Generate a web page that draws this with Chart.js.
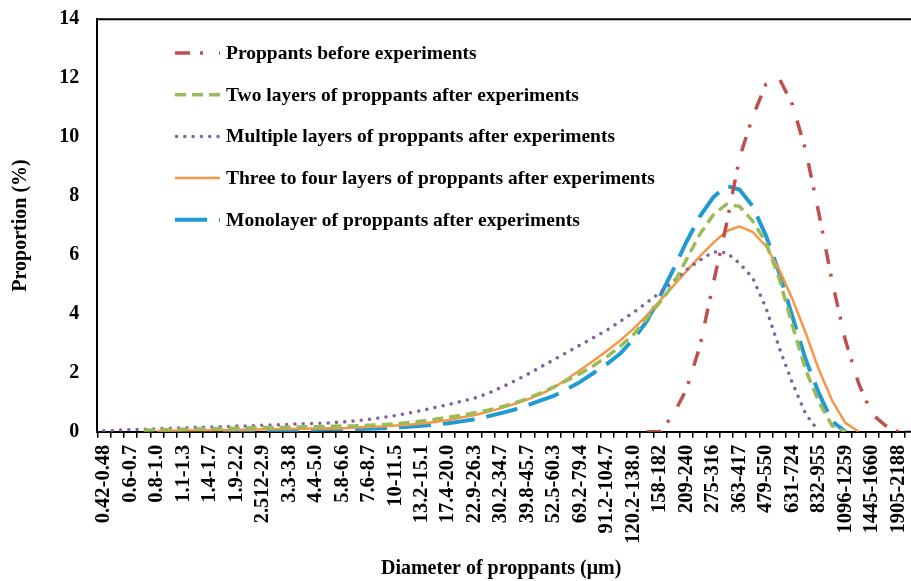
<!DOCTYPE html>
<html>
<head>
<meta charset="utf-8">
<script src="https://cdn.jsdelivr.net/npm/chart.js@4.4.1/dist/chart.umd.min.js"></script>
<style>
  html, body { margin: 0; padding: 0; background: #fff; }
  #wrap { width: 911px; height: 581px; }
</style>
</head>
<body>
<div id="wrap"><canvas id="c" width="911" height="581"></canvas></div>
<script>
// Size classes (µm); every second class is labelled on the axis
const tickLabels = ['0.42-0.48', '0.6-0.7', '0.8-1.0', '1.1-1.3', '1.4-1.7', '1.9-2.2', '2.512-2.9',
  '3.3-3.8', '4.4-5.0', '5.8-6.6', '7.6-8.7', '10-11.5', '13.2-15.1', '17.4-20.0', '22.9-26.3',
  '30.2-34.7', '39.8-45.7', '52.5-60.3', '69.2-79.4', '91.2-104.7', '120.2-138.0', '158-182',
  '209-240', '275-316', '363-417', '479-550', '631-724', '832-955', '1096-1259', '1445-1660', '1905-2188'];

// Proportion (%) per size class
const beforeExp = [null, null, null, null, null, null, null, null, null, null,
  null, null, null, null, null, null, null, null, null, null,
  null, null, null, null, null, null, null, null, null, null,
  null, null, null, null, null, null, null, null, null, null,
  null, 0, 0, 0.57, 1.45, 2.88, 5.0, 7.0, 9.3, 10.7,
  11.8, 12.0, 11.1, 9.55, 7.4, 5.1, 3.1, 1.64, 0.6, 0.22, 0];

const twoLayers = [null, null, null, 0.05, 0.06, 0.07, 0.08, 0.09, 0.1, 0.11,
  0.12, 0.13, 0.14, 0.14, 0.15, 0.16, 0.17, 0.18, 0.19, 0.2,
  0.22, 0.24, 0.27, 0.31, 0.36, 0.42, 0.49, 0.56, 0.64, 0.73,
  0.84, 0.97, 1.13, 1.32, 1.52, 1.75, 1.98, 2.25, 2.55, 2.9,
  3.3, 3.85, 4.4, 5.0, 5.85, 6.7, 7.35, 7.72, 7.65, 7.15,
  6.42, 5.2, 3.6, 2.1, 1.0, 0.2, 0, null, null, null, null];

const multiLayers = [0.03, 0.05, 0.07, 0.08, 0.1, 0.12, 0.13, 0.15, 0.16, 0.17,
  0.19, 0.2, 0.22, 0.23, 0.25, 0.27, 0.28, 0.3, 0.33, 0.37,
  0.42, 0.48, 0.55, 0.63, 0.72, 0.82, 0.92, 1.03, 1.14, 1.3,
  1.5, 1.72, 1.95, 2.2, 2.45, 2.7, 2.95, 3.2, 3.45, 3.75,
  4.05, 4.38, 4.72, 5.1, 5.5, 5.82, 6.1, 6.08, 5.72, 5.22,
  4.2, 2.85, 1.65, 0.6, 0, null, null, null, null, null, null];

const threeToFour = [null, null, null, null, 0.02, 0.03, 0.04, 0.05, 0.05, 0.06,
  0.07, 0.07, 0.08, 0.09, 0.09, 0.1, 0.11, 0.11, 0.12, 0.14,
  0.16, 0.18, 0.21, 0.24, 0.28, 0.33, 0.4, 0.48, 0.57, 0.68,
  0.8, 0.94, 1.1, 1.28, 1.5, 1.8, 2.1, 2.42, 2.75, 3.1,
  3.5, 3.95, 4.45, 4.95, 5.45, 5.95, 6.4, 6.8, 6.97, 6.78,
  6.3, 5.5, 4.5, 3.35, 2.1, 1.05, 0.3, 0, null, null, null];

const monolayer = [null, null, null, null, null, null, null, null, null, 0.01,
  0.02, 0.03, 0.04, 0.05, 0.06, 0.06, 0.07, 0.08, 0.08, 0.09,
  0.1, 0.12, 0.14, 0.17, 0.2, 0.24, 0.29, 0.35, 0.42, 0.52,
  0.63, 0.75, 0.9, 1.06, 1.22, 1.45, 1.7, 2.0, 2.3, 2.65,
  3.15, 3.75, 4.6, 5.5, 6.45, 7.3, 7.95, 8.35, 8.22, 7.65,
  6.65, 5.4, 3.9, 2.45, 1.3, 0.35, 0, null, null, null, null];

// Axis categories: labelled classes with the unlabelled ones in between
const categories = [];
tickLabels.forEach((t, k) => {
  categories.push(t);
  if (k < tickLabels.length - 1) categories.push('');
});

const FAMILY = '"Liberation Serif", "Times New Roman", serif';
const bold = (size) => ({ family: FAMILY, weight: 'bold', size: size });

// Top frame line and the x-axis run-out to the right edge
const plotFrame = {
  id: 'plotFrame',
  afterDraw(chart) {
    const { ctx, chartArea: a } = chart;
    ctx.save();
    ctx.strokeStyle = '#000';
    ctx.lineWidth = 2;
    ctx.beginPath();
    ctx.moveTo(a.left - 1, a.top);
    ctx.lineTo(chart.width, a.top);
    ctx.moveTo(a.right, a.bottom);
    ctx.lineTo(chart.width, a.bottom);
    ctx.stroke();
    ctx.restore();
  }
};

// Legend drawn inside the plot, upper left
const insideLegend = {
  id: 'insideLegend',
  afterDraw(chart) {
    const ctx = chart.ctx;
    ctx.save();
    chart.data.datasets.forEach((ds, i) => {
      const y = 53 + i * 41.7;
      ctx.beginPath();
      ctx.strokeStyle = ds.borderColor;
      ctx.lineWidth = ds.borderWidth;
      ctx.setLineDash(ds.borderDash || []);
      ctx.lineCap = ds.borderCapStyle || 'butt';
      ctx.moveTo(ds.borderCapStyle === 'round' ? 176.5 : 175, y);
      ctx.lineTo(220, y);
      ctx.stroke();
      ctx.setLineDash([]);
      ctx.fillStyle = '#000';
      ctx.font = 'bold 19.5px ' + FAMILY;
      ctx.textBaseline = 'middle';
      ctx.textAlign = 'left';
      ctx.fillText(ds.label, 226, y + 1);
    });
    ctx.restore();
  }
};

new Chart(document.getElementById('c'), {
  type: 'line',
  data: {
    labels: categories,
    datasets: [
      { label: 'Proppants before experiments', data: beforeExp,
        borderColor: '#C0504D', borderWidth: 3.5, borderDash: [15, 10, 3, 16], borderCapStyle: 'butt' },
      { label: 'Two layers of proppants after experiments', data: twoLayers,
        borderColor: '#9BBB59', borderWidth: 3.5, borderDash: [11, 6], borderCapStyle: 'butt' },
      { label: 'Multiple layers of proppants after experiments', data: multiLayers,
        borderColor: '#8064A2', borderWidth: 3.5, borderDash: [0.01, 8.3], borderCapStyle: 'round' },
      { label: 'Three to four layers of proppants after experiments', data: threeToFour,
        borderColor: '#F79646', borderWidth: 2.5, borderCapStyle: 'butt' },
      { label: 'Monolayer of proppants after experiments', data: monolayer,
        borderColor: '#1E9BD3', borderWidth: 4, borderDash: [32, 12], borderCapStyle: 'butt' }
    ]
  },
  options: {
    responsive: false,
    animation: false,
    layout: { padding: { top: 19.3, right: 6, bottom: 0, left: 0 } },
    elements: {
      point: { radius: 0, hoverRadius: 0 },
      line: { tension: 0, fill: false }
    },
    plugins: { legend: { display: false }, tooltip: { enabled: false } },
    scales: {
      x: {
        type: 'category',
        offset: true,
        grid: { offset: true, drawOnChartArea: false, drawTicks: true, tickLength: 6, color: '#000', lineWidth: 1.5 },
        border: { display: true, color: '#000', width: 2 },
        ticks: { autoSkip: false, maxRotation: 90, minRotation: 90, padding: 7, color: '#000', font: bold(20.5) },
        title: { display: true, text: 'Diameter of proppants (μm)', color: '#000', font: bold(20), padding: { top: 0, bottom: 0 } },
        afterFit(s) { s.height = 581 - 431.7; s.paddingLeft = 0; s.paddingRight = 0; }
      },
      y: {
        min: 0,
        max: 14,
        grid: { display: false, drawTicks: false },
        border: { display: true, color: '#000', width: 2 },
        ticks: { stepSize: 2, padding: 18, color: '#000', font: bold(20) },
        title: { display: true, text: 'Proportion (%)', color: '#000', font: bold(20), padding: { top: 9, bottom: 0 } },
        afterFit(s) { s.width = 97.3; s.paddingTop = 0; s.paddingBottom = 0; }
      }
    }
  },
  plugins: [plotFrame, insideLegend]
});
</script>
</body>
</html>
